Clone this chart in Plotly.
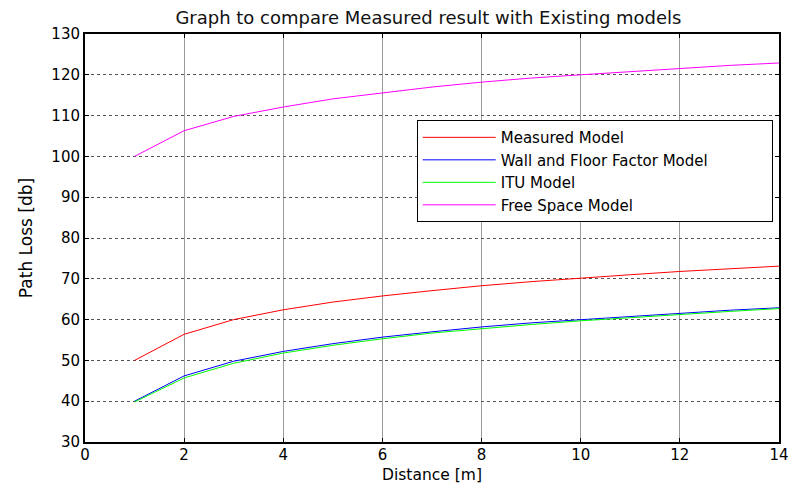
import plotly.graph_objects as go

# Path loss vs distance for the measured result and three reference models
distance = [1, 2, 3, 4, 5, 6, 7, 8, 9, 10, 11, 12, 13, 14]
measured = [50.0, 56.4, 60.0, 62.4, 64.3, 65.8, 67.1, 68.3, 69.3, 70.2, 71.0, 71.8, 72.5, 73.1]
wall_floor = [40.0, 46.2, 49.8, 52.2, 54.1, 55.7, 57.0, 58.2, 59.2, 60.0, 60.8, 61.6, 62.3, 62.9]
itu = [39.8, 45.7, 49.3, 51.8, 53.7, 55.3, 56.7, 57.8, 58.8, 59.7, 60.5, 61.3, 62.0, 62.7]
free_space = [100.0, 106.3, 109.8, 112.1, 114.1, 115.6, 117.0, 118.2, 119.2, 120.0, 120.8, 121.6, 122.3, 122.9]

series = [
    ("Measured Model", measured, "#ff0000"),
    ("Wall and Floor Factor Model", wall_floor, "#0000ff"),
    ("ITU Model", itu, "#00ff00"),
    ("Free Space Model", free_space, "#ff00ff"),
]

font_family = "DejaVu Sans, Verdana, sans-serif"

fig = go.Figure()
for name, values, color in series:
    fig.add_trace(go.Scatter(x=distance, y=values, mode="lines", name=name,
                             line=dict(color=color, width=1)))

fig.update_layout(
    width=789, height=484,
    paper_bgcolor="white", plot_bgcolor="white",
    margin=dict(l=85, r=10, t=34, b=42),
    font=dict(family=font_family, size=15, color="black"),
    title=dict(text="Graph to compare Measured result with Existing models",
               x=0.543, xanchor="center", y=0.964, yanchor="middle",
               font=dict(size=18, color="#111111")),
    # one entry per row: wide fixed-width entries in a horizontal legend
    legend=dict(orientation="h", x=0.478, y=0.789, xanchor="left", yanchor="top",
                bgcolor="white", bordercolor="black", borderwidth=1,
                font=dict(size=15), tracegroupgap=0, itemwidth=73,
                entrywidth=266, entrywidthmode="pixels"),
    showlegend=True,
)

fig.update_xaxes(
    range=[0, 14], dtick=2, tick0=0, automargin=False,
    showline=True, linecolor="black", linewidth=2, mirror="ticks",
    ticks="inside", ticklen=4, tickcolor="black", ticklabelstandoff=-2,
    showgrid=True, gridcolor="#9a9a9a", gridwidth=1,
    zeroline=False,
    title=dict(text="Distance [m]", standoff=7, font=dict(size=15.5)),
)
fig.update_yaxes(
    range=[30, 130], dtick=10, tick0=30, automargin=False,
    showline=True, linecolor="black", linewidth=2, mirror="ticks",
    ticks="inside", ticklen=4, tickcolor="black",
    showgrid=True, gridcolor="#555555", gridwidth=1, griddash="dot",
    zeroline=False,
    title=dict(text="Path Loss [db]", standoff=14, font=dict(size=17)),
)

fig.write_html("out.html")
